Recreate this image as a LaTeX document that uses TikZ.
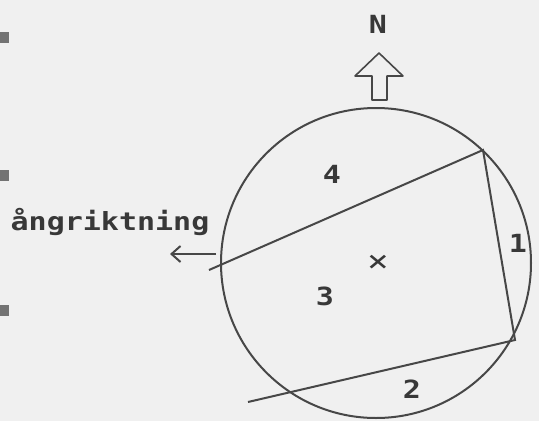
\documentclass[tikz,border=0pt]{standalone}
\usepackage{fontspec}
\usepackage{tikz}
\usetikzlibrary{arrows.meta}
\newfontfamily\typefont[FakeStretch=1.2]{DejaVu Sans Mono}

\tikzset{
  plan/.style={line width=2pt,draw=black!72},
  tag/.style={inner sep=0pt,anchor=base,text=black!78,
    font=\typefont\bfseries\fontsize{25}{25}\selectfont},
}

\begin{document}
\begin{tikzpicture}[x=1pt,y=-1pt]
    \fill[black!6] (0,0) rectangle (539,421);
    \useasboundingbox (0,0) rectangle (539,421);
    % margin marks
    \foreach \y in {32,170,305}
    \fill[black!55] (0,\y) rectangle +(9,11);
    % north arrow
    \node[tag] (north) at (378,33) {N};
    \draw[plan,line width=1.6pt,line join=round]
      (372,100) -- (372,76) -- (355,76) -- (379,53) -- (403,76)
      -- (387,76) -- (387,100) -- cycle;
    % plot
    \coordinate (mid) at (376,263);
    \draw[plan] (mid) circle (155);
    \node[tag,anchor=center,font=\typefont\fontsize{30}{30}\selectfont] (cross) at (378,263) {×};
    \coordinate (ne) at (483,150);
    \coordinate (se) at (515,340);
    \coordinate (west) at (209,270);
    \coordinate (south) at (248,402);
    \draw[plan] (west) -- (ne) -- (se) -- (south);
    % parts
    \node[tag] (p1) at (518,252) {1};
    \node[tag] (p2) at (412,398) {2};
    \node[tag] (p3) at (325,305) {3};
    \node[tag] (p4) at (332,183) {4};
    % wind
    \node[tag] (wind) at (110,230) {ångriktning};
    \coordinate (tail) at (216,254);
    \coordinate (head) at (170,254);
    \draw[plan,-{Straight Barb[length=9pt,width=16pt]}] (tail) -- (head);
\end{tikzpicture}
\end{document}
